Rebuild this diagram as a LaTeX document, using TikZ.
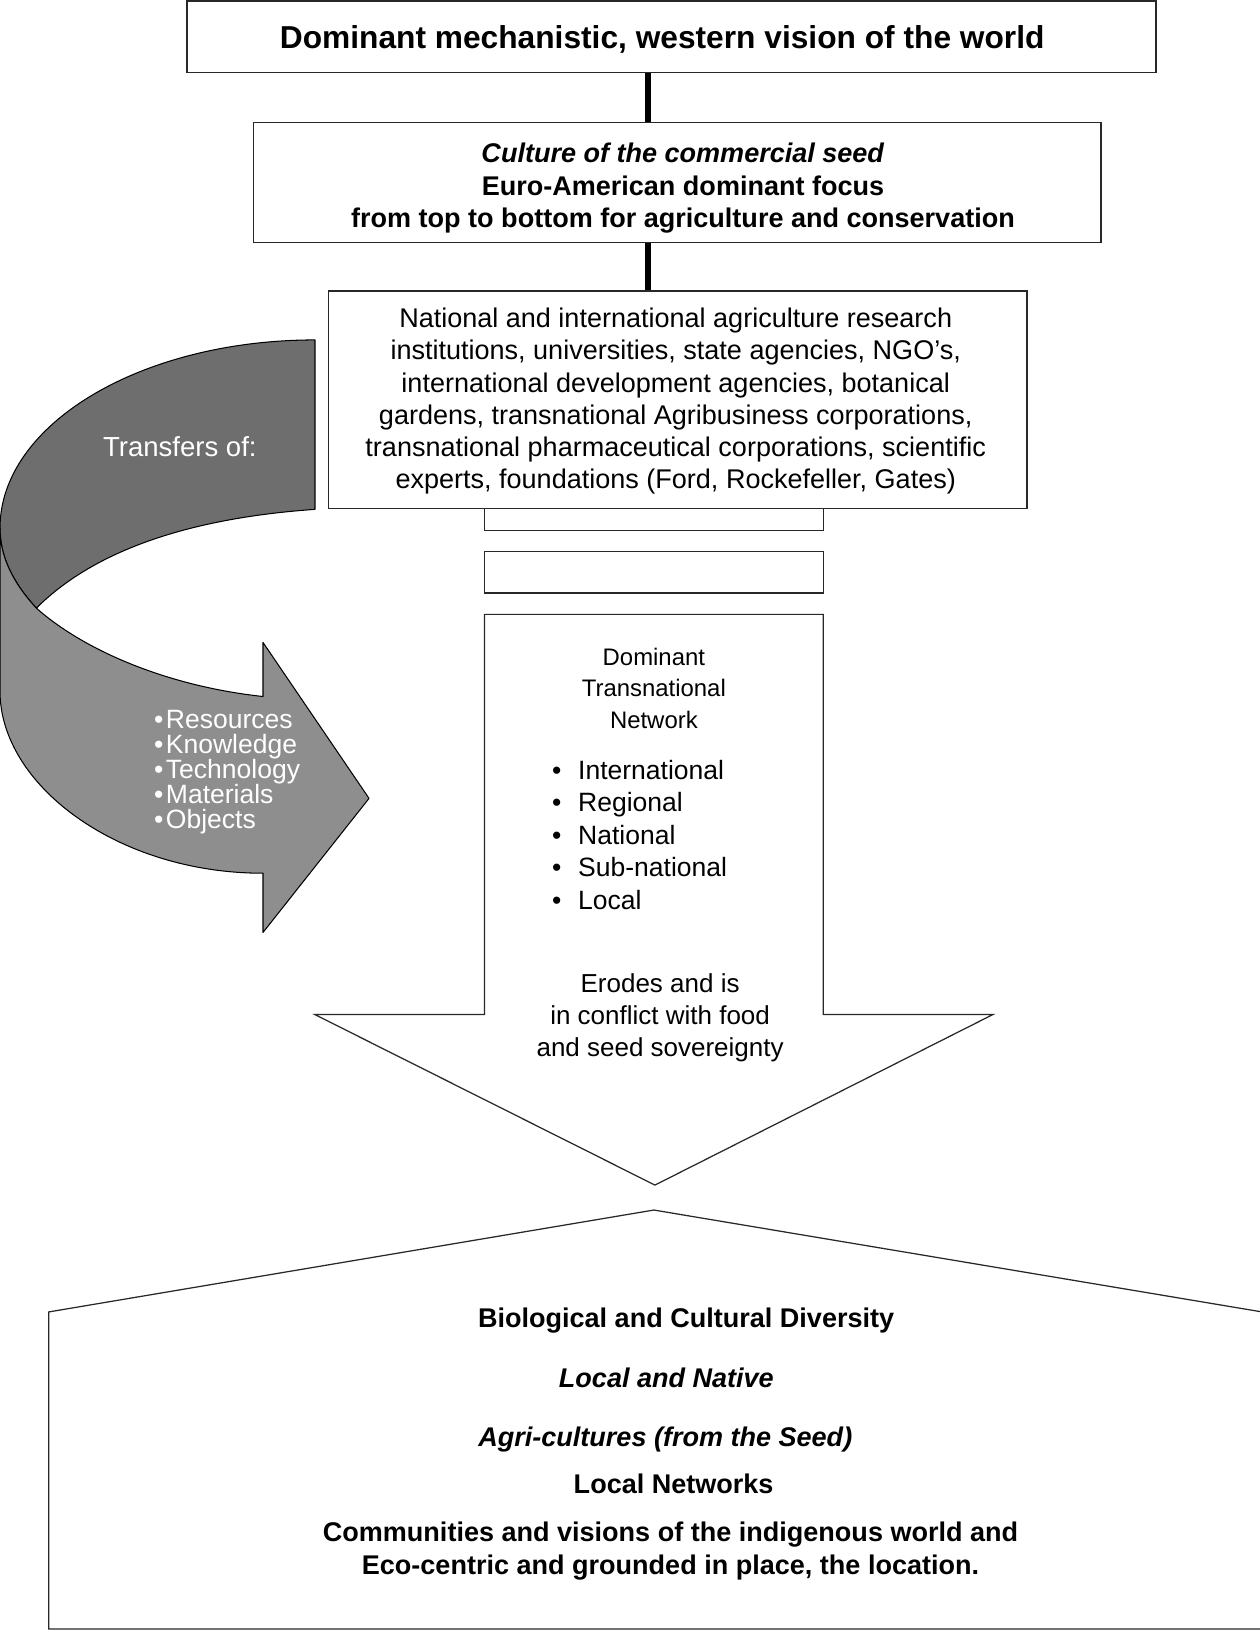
\documentclass[tikz,border=0pt]{standalone}
\usepackage{fontspec}
\setmainfont{Liberation Sans}
\definecolor{darkband}{RGB}{110,110,110}
\definecolor{lightband}{RGB}{142,142,142}
\definecolor{edge}{RGB}{40,40,40}
\begin{document}
\begin{tikzpicture}[x=1pt,y=-1pt,
  boxst/.style={draw=edge, line width=1.2pt, fill=white, inner sep=0pt},
  conn/.style={draw=black, line width=6pt},
  txt/.style={inner sep=0pt, align=center},
  reg/.style={font=\fontsize{26}{31}\selectfont},
  bld/.style={font=\fontsize{26}{31}\selectfont\bfseries},
  bit/.style={font=\fontsize{26}{31}\selectfont\bfseries\itshape},
  wht/.style={text=white}]
\useasboundingbox (0,0) rectangle (1212,1568);

% curved arrow
\draw[fill=darkband, draw=black, line width=1pt, line join=round]
  (303,327) -- (303,490) .. controls (160,500) and (80,540) .. (35,585)
  .. controls (12,560) and (0,535) .. (0,508)
  .. controls (0,408) and (136,327) .. (303,327) -- cycle;
\draw[fill=lightband, draw=black, line width=1pt, line join=round]
  (35,585) .. controls (12,560) and (0,535) .. (0,508) -- (0,665)
  .. controls (0,755) and (113,840) .. (253,840) -- (253,897) -- (355,768)
  -- (253,618) -- (253,670) .. controls (160,660) and (80,625) .. (35,585) -- cycle;
\node[txt, wht, font=\fontsize{26.5}{30}\selectfont] (transfers) at (173,430) {Transfers of:};
\node[txt, wht, anchor=west, align=left, font=\fontsize{25.5}{24}\selectfont] (items) at (148,743)
  {•\hspace{2.5pt}Resources\\•\hspace{2.5pt}Knowledge\\•\hspace{2.5pt}Technology\\•\hspace{2.5pt}Materials\\•\hspace{2.5pt}Objects};

% boxes
\node[boxst, minimum width=932pt, minimum height=69pt] (top) at (646,35.5) {};
\node[txt, font=\fontsize{30.5}{36}\selectfont\bfseries] (toptext) at (637,38) {Dominant mechanistic, western vision of the world};
\node[boxst, minimum width=815pt, minimum height=115pt] (cult) at (651.5,175.5) {};
\node[txt, bld] (culttext) at (657,181) {\textit{Culture of the commercial seed}\\Euro-American dominant focus\\from top to bottom for agriculture and conservation};
\coordinate (cx) at (623,0);
\draw[conn] (top.south -| cx) -- (cult.north -| cx);

\node[boxst, minimum width=326pt, minimum height=40pt] (bar1) at (629,490) {};
\node[boxst, minimum width=326pt, minimum height=40pt] (bar2) at (629,550.5) {};
\node[boxst, minimum width=672pt, minimum height=209pt] (inst) at (652,384.5) {};
\draw[conn] (cult.south -| cx) -- (inst.north -| cx);
\node[txt, reg] (insttext) at (650,386) {National and international agriculture research\\institutions, universities, state agencies, NGO’s,\\international development agencies, botanical\\gardens, transnational Agribusiness corporations,\\transnational pharmaceutical corporations, scientific\\experts, foundations (Ford, Rockefeller, Gates)};

% big down arrow
\draw[draw=edge, line width=1.2pt, fill=white, line join=miter]
  (466,591) coordinate (a1) -- (792,591) -- (792,976) -- (955,976) -- (630,1140) coordinate (tip)
  -- (303,976) -- (466,976) -- cycle;
\node[txt, font=\fontsize{23}{30.5}\selectfont] (dtn) at (629,662) {Dominant\\Transnational\\Network};
\node[txt, anchor=west, align=left, font=\fontsize{25.5}{31.2}\selectfont] (levels) at (531,803)
  {\makebox[25pt][l]{•}International\\\makebox[25pt][l]{•}Regional\\\makebox[25pt][l]{•}National\\\makebox[25pt][l]{•}Sub-national\\\makebox[25pt][l]{•}Local};
\node[txt, font=\fontsize{25}{31}\selectfont] (erodes) at (635,979) {Erodes and is\\in conflict with food\\and seed sovereignty};

% bottom house
\draw[draw=edge, line width=1.2pt, line join=miter]
  (629,1164) coordinate (apex) -- (1214,1262) -- (1214,1567) -- (47,1567) -- (47,1262) -- cycle;
\node[txt, bld] (bio) at (660,1270) {Biological and Cultural Diversity};
\node[txt, bit] (native) at (641,1325) {Local and Native};
\node[txt, bit] (agri) at (640,1385) {Agri-cultures (from the Seed)};
\node[txt, bld] (localnet) at (648,1427) {Local Networks};
\node[txt, bld] (comm) at (645,1492) {Communities and visions of the indigenous world and\\Eco-centric and grounded in place, the location.};
\end{tikzpicture}
\end{document}
